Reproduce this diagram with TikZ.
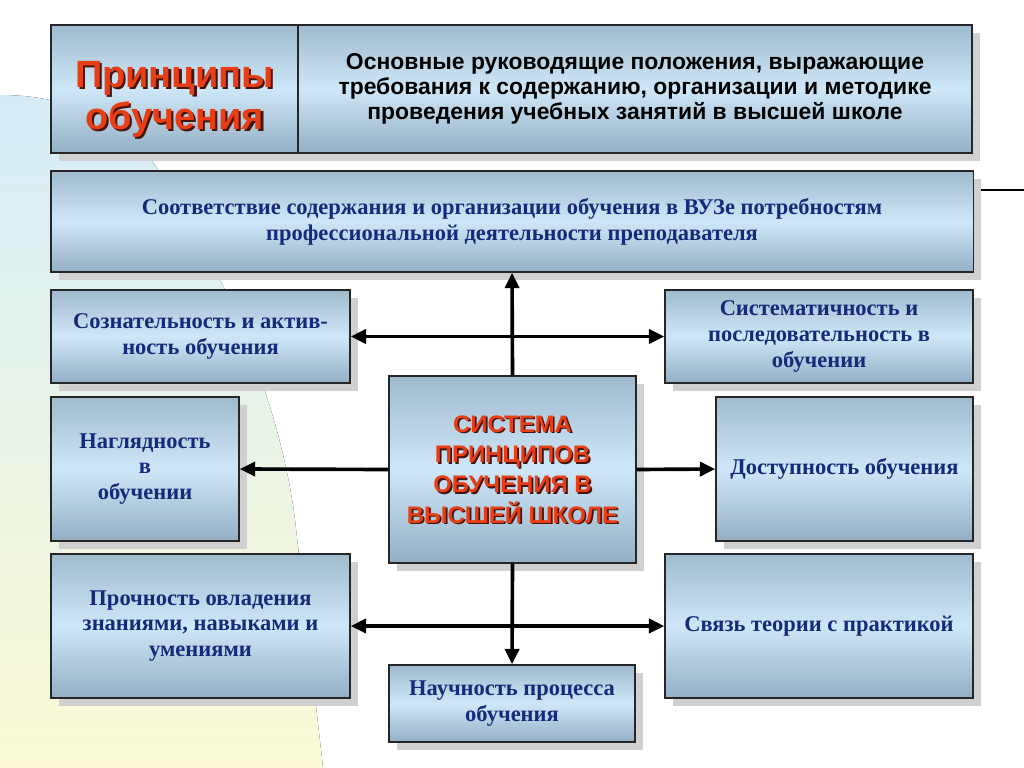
\documentclass[tikz,border=0pt]{standalone}
\usepackage{fontspec}
\setmainfont{Liberation Serif}
\setsansfont{Liberation Sans}
\usetikzlibrary{arrows.meta,shadows,positioning}
\definecolor{boxtop}{RGB}{160,186,206}
\definecolor{boxmid}{RGB}{206,231,248}
\definecolor{boxbot}{RGB}{148,174,196}
\definecolor{navytext}{RGB}{22,42,122}
\definecolor{titlered}{RGB}{232,62,22}
\definecolor{titleshade}{RGB}{70,20,10}
\definecolor{shadowgray}{RGB}{208,208,208}
\definecolor{bgcyan}{RGB}{214,237,248}
\definecolor{bgyellow}{RGB}{252,250,214}

\begin{document}
\begin{tikzpicture}[x=0.025cm, y=-0.025cm,
    principle/.style={draw=black!85, line width=0.9pt, top color=boxtop, bottom color=boxbot, middle color=boxmid,
        drop shadow={shadow xshift=0.2cm, shadow yshift=-0.2cm, fill=shadowgray, opacity=1},
        align=center, text=navytext, font=\bfseries\fontsize{16}{18.4}\selectfont},
    headtext/.style={align=center, text=titlered, font=\sffamily\bfseries\fontsize{27}{30}\selectfont},
    headshade/.style={headtext, text=titleshade, xshift=1.7pt, yshift=-1.7pt},
    coretext/.style={align=center, text=titlered, font=\sffamily\bfseries\fontsize{17}{21.6}\selectfont},
    coreshade/.style={coretext, text=titleshade, xshift=1.2pt, yshift=-1.2pt},
    link/.style={line width=2.6pt, -{Triangle[length=11pt,width=10pt]}},
    twolink/.style={line width=2.6pt, {Triangle[length=11pt,width=10pt]}-{Triangle[length=11pt,width=10pt]}}]
    \useasboundingbox (0,0) rectangle (1024,768);
    % slide background
    \fill[top color=bgcyan, bottom color=bgyellow] (0,95) .. controls (80,95) and (130,130) .. (155,165)
        .. controls (220,260) and (280,400) .. (295,520) -- (323,768) -- (0,768) -- cycle;
    \coordinate (decoL) at (973,190);
    \coordinate (decoR) at (1024,190);
    \draw[line width=0.9pt] (decoL) -- (decoR);

    % header
    \node[principle, minimum width=6.175cm, minimum height=3.2cm] (head) at (174.5,89) {};
    \node[principle, minimum width=16.85cm, minimum height=3.2cm, text=black, font=\sffamily\bfseries\fontsize{16.3}{17.6}\selectfont] (defn) at (635,89)
        {Основные руководящие положения, выражающие\\ требования к содержанию, организации и методике\\ проведения учебных занятий в высшей школе};
    \node[headshade, yshift=-0.25cm] (headback) at (head) {Принципы\\ обучения};
    \node[headtext, yshift=-0.25cm] (headfront) at (head) {Принципы\\ обучения};

    % principles
    \node[principle, minimum width=23.05cm, minimum height=2.525cm] (relevance) at (512,221.5)
        {Соответствие содержания и организации обучения в ВУЗе потребностям\\ профессиональной деятельности преподавателя};
    \node[principle, minimum width=7.475cm, minimum height=2.325cm] (awareness) at (200.5,336.5) {Сознательность и актив-\\ность обучения};
    \node[principle, minimum width=7.7cm, minimum height=2.325cm] (system) at (819,336.5) {Систематичность и\\ последовательность в\\ обучении};
    \node[principle, minimum width=6.175cm, minimum height=4.675cm] (core) at (512.5,469.5) {};
    \node[coreshade] (coreback) at (core) {СИСТЕМА\\ ПРИНЦИПОВ\\ ОБУЧЕНИЯ В\\ ВЫСШЕЙ ШКОЛЕ};
    \node[coretext] (corefront) at (core) {СИСТЕМА\\ ПРИНЦИПОВ\\ ОБУЧЕНИЯ В\\ ВЫСШЕЙ ШКОЛЕ};
    \node[principle, minimum width=4.7cm, minimum height=3.6cm] (visual) at (145,469) {Наглядность\\ в\\ обучении};
    \node[principle, minimum width=6.425cm, minimum height=3.6cm] (access) at (844.5,469) {Доступность обучения};
    \node[principle, minimum width=7.475cm, minimum height=3.6cm] (durable) at (200.5,626) {Прочность овладения\\ знаниями, навыками и\\ умениями};
    \node[principle, minimum width=7.7cm, minimum height=3.6cm] (practice) at (819,626) {Связь теории с практикой};
    \node[principle, minimum width=6.15cm, minimum height=1.925cm] (science) at (512,703.5) {Научность процесса\\ обучения};

    % connectors
    \draw[link] (core.north) -- (relevance.south);
    \draw[twolink] (awareness.east) -- (system.west);
    \draw[link] (core.west) -- (visual.east);
    \draw[link] (core.east) -- (access.west);
    \draw[link] (core.south) -- (science.north);
    \draw[twolink] (durable.east) -- (practice.west);
\end{tikzpicture}
\end{document}
